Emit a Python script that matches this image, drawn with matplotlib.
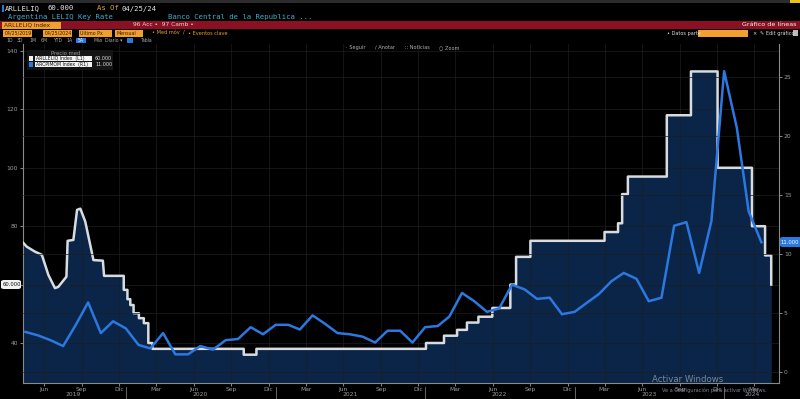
import pandas as pd
import matplotlib
matplotlib.use("Agg")
import matplotlib.pyplot as plt
import matplotlib.dates as mdates
from matplotlib.patches import Rectangle, FancyBboxPatch

# tasa LELIQ (eje izquierdo), puntos de la serie diaria
leliq_fechas = [
    "2019-04-25", "2019-05-04", "2019-05-24", "2019-06-10", "2019-06-26", "2019-07-12",
    "2019-07-20", "2019-08-09", "2019-08-12", "2019-08-26", "2019-09-04", "2019-09-12",
    "2019-09-24", "2019-10-14", "2019-11-06", "2019-11-09", "2019-12-27", "2019-12-27",
    "2020-01-05", "2020-01-05", "2020-01-12", "2020-01-12", "2020-01-20", "2020-01-20",
    "2020-02-02", "2020-02-02", "2020-02-14", "2020-02-14", "2020-02-25", "2020-02-25",
    "2020-03-06", "2020-03-06", "2020-10-15", "2020-10-15", "2020-11-15", "2020-11-15",
    "2022-01-03", "2022-01-03", "2022-02-16", "2022-02-16", "2022-03-20", "2022-03-20",
    "2022-04-13", "2022-04-13", "2022-05-11", "2022-05-11", "2022-06-14", "2022-06-14",
    "2022-07-28", "2022-07-28", "2022-08-11", "2022-08-11", "2022-09-15", "2022-09-15",
    "2023-03-15", "2023-03-15", "2023-04-17", "2023-04-17", "2023-04-27", "2023-04-27",
    "2023-05-11", "2023-05-11", "2023-08-14", "2023-08-14", "2023-10-12", "2023-10-12",
    "2023-12-16", "2023-12-16", "2024-03-09", "2024-03-09", "2024-04-10", "2024-04-10",
    "2024-04-25", "2024-04-25",
]
leliq_vals = [
    74.4, 73.0, 71.3, 70.2, 63.3, 58.8,
    59.2, 62.7, 75.0, 75.3, 85.6, 86.0,
    81.6, 68.4, 68.2, 63.0, 63.0, 58.2,
    58.2, 55.0, 55.0, 53.0, 53.0, 50.2,
    50.2, 48.5, 48.5, 46.8, 46.8, 40.0,
    40.0, 38.0, 38.0, 36.0, 36.0, 38.0,
    38.0, 40.0, 40.0, 42.5, 42.5, 44.5,
    44.5, 47.0, 47.0, 49.0, 49.0, 52.0,
    52.0, 60.0, 60.0, 69.5, 69.5, 75.0,
    75.0, 78.0, 78.0, 81.0, 81.0, 91.0,
    91.0, 97.0, 97.0, 118.0, 118.0, 133.0,
    133.0, 100.0, 100.0, 80.0, 80.0, 70.0,
    70.0, 60.0,
]

# inflacion mensual (eje derecho), abr 2019 - mar 2024
ipc_meses = pd.period_range("2019-04", "2024-03", freq="M")
ipc_vals = [
    3.4, 3.1, 2.7, 2.2, 4.0, 5.9, 3.3, 4.3, 3.7,
    2.3, 2.0, 3.3, 1.5, 1.5, 2.2, 1.9, 2.7, 2.8, 3.8, 3.2, 4.0,
    4.0, 3.6, 4.8, 4.1, 3.3, 3.2, 3.0, 2.5, 3.5, 3.5, 2.5, 3.8,
    3.9, 4.7, 6.7, 6.0, 5.1, 5.4, 7.4, 7.0, 6.2, 6.3, 4.9, 5.1,
    5.9, 6.6, 7.7, 8.4, 7.9, 6.0, 6.3, 12.4, 12.7, 8.4, 12.8, 25.5,
    20.7, 13.6, 11.0,
]

meses_es = {3: "Mar", 6: "Jun", 9: "Sep", 12: "Dic"}
anios = ["2019", "2020", "2021", "2022", "2023", "2024"]
anios_pos = ["2019-08-25", "2020-07-01", "2021-07-01", "2022-07-01", "2023-07-01", "2024-03-10"]

W, H = 800, 399
gris = "#9c9c9c"
fondo_area = "#0b2548"
blanco = "#d8dce0"
azul = "#2a78e0"

fig = plt.figure(figsize=(8, 3.99), dpi=100, facecolor="black")


def fx(x):
    return x / W


def fy(y):
    return 1 - y / H


def caja(x0, y0, x1, y1, color):
    fig.patches.append(Rectangle((fx(x0), fy(y1)), fx(x1) - fx(x0), fy(y0) - fy(y1),
                                 transform=fig.transFigure, facecolor=color,
                                 edgecolor="none", zorder=1))


def texto(x, y, s, color="#cccccc", size=4.5, ha="left", mono=False, **kw):
    fig.text(fx(x), fy(y), s, color=color, fontsize=size, ha=ha, va="center",
             family="DejaVu Sans Mono" if mono else "DejaVu Sans", zorder=5, **kw)


ax = fig.add_axes([23 / W, 16 / H, 756 / W, 339 / H])
ax.set_facecolor("black")
ax2 = ax.twinx()

fechas = pd.to_datetime(leliq_fechas)
ax.fill_between(fechas, leliq_vals, 0, color=fondo_area, lw=0, zorder=1)
ax.plot(fechas, leliq_vals, color=blanco, lw=1.8, zorder=3)

ipc_x = ipc_meses.to_timestamp(how="end")
ax2.plot(ipc_x, ipc_vals, color=azul, lw=1.8, zorder=3)

ax.set_xlim(pd.Timestamp("2019-04-25"), pd.Timestamp("2024-05-14"))
ax.set_ylim(26.3, 142.4)
ax2.set_ylim(-0.93, 27.8)

ax.set_yticks([40, 60, 80, 100, 120, 140])
ax2.set_yticks([0, 5, 10, 15, 20, 25])
ax.xaxis.set_major_locator(mdates.MonthLocator(bymonth=[3, 6, 9, 12], bymonthday=15))
ax.xaxis.set_major_formatter(plt.FuncFormatter(lambda v, p: meses_es[mdates.num2date(v).month]))

for a in (ax, ax2):
    for s in a.spines.values():
        s.set_visible(False)
    a.spines["left"].set_visible(a is ax)
    a.spines["right"].set_visible(a is ax2)
    a.spines["bottom"].set_visible(a is ax)
    for s in a.spines.values():
        s.set_color("#8a8a8a")
        s.set_linewidth(0.8)
    a.tick_params(colors=gris, labelsize=4.3, length=2, width=0.6, pad=1.5)

ax.grid(True, color="#1d1d1d", lw=0.5)
ax2.grid(True, axis="y", color="#1d1d1d", lw=0.5)
ax.tick_params(axis="x", pad=1)

# separadores de anio y etiquetas de anio
for y in ["2020", "2021", "2022", "2023", "2024"]:
    ax.axvline(pd.Timestamp(y + "-01-01"), ymin=-0.045, ymax=-0.012, color="#777777",
               lw=0.6, clip_on=False)
for etiqueta, pos in zip(anios, anios_pos):
    ax.text(pd.Timestamp(pos), -0.034, etiqueta, transform=ax.get_xaxis_transform(),
            color=gris, fontsize=4.3, ha="center", va="center")

# ultimo valor de cada serie
fig.patches.append(FancyBboxPatch((fx(1), fy(289)), fx(20), fy(280) - fy(289),
                                  boxstyle="round,pad=0,rounding_size=0.004",
                                  transform=fig.transFigure, facecolor="#f2f2f2",
                                  edgecolor="none", zorder=4))
texto(11.5, 284.5, "60.000", color="#111111", size=3.8, ha="center")
fig.patches.append(FancyBboxPatch((fx(780), fy(247)), fx(22), fy(237) - fy(247),
                                  boxstyle="round,pad=0,rounding_size=0.004",
                                  transform=fig.transFigure, facecolor=azul,
                                  edgecolor="none", zorder=4))
texto(790, 242, "11.000", color="white", size=3.8, ha="center")

# leyenda
caja(27, 50, 113, 70, "#141414")
texto(66, 53.5, "Precio med", color="#9a9a9a", size=3.8, ha="center")
caja(29, 56, 33, 61, "#f2f2f2")
caja(35, 56, 92, 61, "#f2f2f2")
texto(36, 58.5, "ARLLELIQ Index  (L1)", color="#111111", size=3.3)
texto(95, 58.5, "60.000", color="#dddddd", size=3.5)
caja(29, 62, 33, 67, azul)
caja(35, 62, 92, 67, "#f2f2f2")
texto(36, 64.5, "ARCPIMOM Index  (R1)", color="#111111", size=3.3)
texto(95, 64.5, "11.000", color="#dddddd", size=3.5)

# cabecera tipo terminal
caja(0, 0, 800, 2.5, "#2c2c2c")
caja(790, 0, 800, 2.5, "#e8c21a")
caja(2, 5, 4, 12, azul)
texto(5, 8.5, "ARLLELIQ", color="#e6e6e6", size=5.2, mono=True)
texto(48, 8.5, "60.000", color="#e6e6e6", size=5.2, mono=True)
texto(97, 8.5, "As Of", color="#e8a030", size=5.2, mono=True)
texto(122, 8.5, "04/25/24", color="#e6e6e6", size=5.2, mono=True)
texto(8, 16.5, "Argentina LELIQ Key Rate", color="#3aaed0", size=5.2, mono=True)
texto(168, 16.5, "Banco Central de la Republica ...", color="#3aaed0", size=5.2, mono=True)

caja(0, 21, 800, 29, "#8c1024")
caja(2, 21.5, 61, 28.5, "#f0a030")
texto(4, 25, "ARLLELIQ Index", color="#3a1a00", size=4.2)
texto(133, 25, "96 Acc \u2022  97 Camb \u2022", color="#f0d0d0", size=4.2)
texto(796, 25, "Gr\u00e1fico de l\u00edneas", color="#f4f4f4", size=4.6, ha="right")

for x0, x1, s in [(3, 32, "04/25/2019"), (43, 72, "04/25/2024"), (79, 112, "\u00daltimo Px"),
                  (115, 143, "Mensual")]:
    caja(x0, 30, x1, 36.5, "#f0a030")
    texto(x0 + 1.5, 33.3, s, color="#3a1a00", size=3.4)
texto(152, 33.3, "\u2022 Med m\u00f3v  /", color="#e8a030", size=3.6)
texto(188, 33.3, "\u2022 Eventos clave", color="#e8a030", size=3.6)
texto(667, 33.3, "\u2022 Datos parte", color="#dddddd", size=3.6)
caja(698, 30, 748, 36.5, "#f0a030")
texto(752, 33.3, "\u00d7", color="#dddddd", size=3.6)
texto(760, 33.3, "\u270e Edit gr\u00e1fico", color="#dddddd", size=3.6)
caja(793, 30.5, 798, 36, "#bbbbbb")

for x, s in [(6, "1D"), (17, "3D"), (29, "1M"), (41, "6M"), (53, "YTD"), (66, "1A"),
             (94, "M\u00e1x"), (105, "Diario \u25be"), (140, "Tabla")]:
    texto(x, 40.5, s, color="#a8a8a8", size=3.3)
caja(76, 38, 86, 43, azul)
texto(78, 40.5, "5A", color="white", size=3.3)
caja(127, 38, 133, 43, azul)

for x, s in [(346, "\u00b7 Seguir"), (375, "\u2215 Anotar"), (405, "\u2237 Noticias"),
             (439, "\u25cb Zoom")]:
    texto(x, 47.5, s, color="#b0b0b0", size=3.6)

# marca de agua de Windows
texto(652, 379.5, "Activar Windows", color="#7f8790", size=6.2)
texto(662, 390, "Ve a Configuraci\u00f3n para activar Windows.", color="#7f8790", size=3.6)

fig.savefig("out.png", dpi=100, facecolor="black")
